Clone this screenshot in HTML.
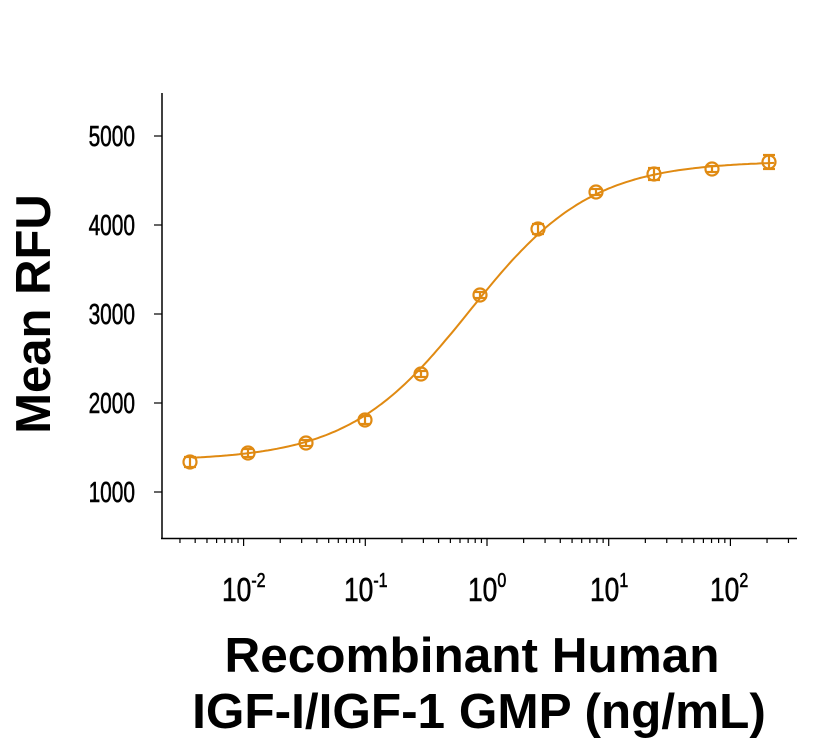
<!DOCTYPE html>
<html><head><meta charset="utf-8"><style>
body{margin:0;background:#fff;}
svg{display:block;}
.t{font-family:"Liberation Sans",sans-serif;}
</style></head><body>
<svg id="s" width="838" height="743" xmlns="http://www.w3.org/2000/svg">
<g stroke="#000" stroke-width="1.5" fill="none">
<line x1="162" y1="93" x2="162" y2="539"/>
<line x1="161" y1="538.5" x2="797" y2="538.5"/>
</g>
<g id="ticks" stroke="#000" stroke-width="1.2"></g>
<g class="t" font-size="29" fill="#000" stroke="#000" stroke-width="0.6" text-anchor="end">
<text x="135" y="146" transform="scale(0.72,1)" transform-origin="135 146">5000</text>
<text x="135" y="235" transform="scale(0.72,1)" transform-origin="135 235">4000</text>
<text x="135" y="324" transform="scale(0.72,1)" transform-origin="135 324">3000</text>
<text x="135" y="413" transform="scale(0.72,1)" transform-origin="135 413">2000</text>
<text x="135" y="502" transform="scale(0.72,1)" transform-origin="135 502">1000</text>
</g>
<g class="t" fill="#000" stroke="#000" stroke-width="0.6" font-size="33">
<text x="222" y="601" transform="scale(0.8,1)" transform-origin="222 601">10<tspan font-size="20" dy="-14">-2</tspan></text>
<text x="344" y="601" transform="scale(0.8,1)" transform-origin="344 601">10<tspan font-size="20" dy="-14">-1</tspan></text>
<text x="468" y="601" transform="scale(0.8,1)" transform-origin="468 601">10<tspan font-size="20" dy="-14">0</tspan></text>
<text x="590" y="601" transform="scale(0.8,1)" transform-origin="590 601">10<tspan font-size="20" dy="-14">1</tspan></text>
<text x="710" y="601" transform="scale(0.8,1)" transform-origin="710 601">10<tspan font-size="20" dy="-14">2</tspan></text>
</g>
<text class="t" x="472" y="672" font-size="49.5" font-weight="bold" text-anchor="middle">Recombinant Human</text>
<text class="t" x="479" y="728" font-size="49.5" font-weight="bold" text-anchor="middle">IGF-I/IGF-1 GMP (ng/mL)</text>
<text class="t" x="0" y="0" font-size="49" font-weight="bold" text-anchor="middle" transform="translate(50,314) rotate(-90)">Mean RFU</text>
<path id="curve" fill="none" stroke="#E08A12" stroke-width="2"/>
<g id="pts" fill="none" stroke="#E08A12" stroke-width="2.2"></g>
</svg>
<script>
function X(v){return 487+121.7*Math.log10(v);}
function Y(v){return 492-(v-1000)*0.089;}
var tk=document.getElementById('ticks'),h='';
for(var d=-3;d<=2;d++){for(var m=1;m<=9;m++){var x=X(m*Math.pow(10,d));if(x<162||x>797)continue;h+='<line x1="'+x+'" y1="538" x2="'+x+'" y2="'+(m==1?546:543)+'"/>';}}
[5000,4000,3000,2000,1000].forEach(function(v){h+='<line x1="154" y1="'+Y(v)+'" x2="162" y2="'+Y(v)+'"/>';});
tk.innerHTML=h;
function f(c){return 1350+(4720-1350)/(1+Math.pow(0.72/c,0.87));}
var p='';for(var i=0;i<=200;i++){var lx=-2.42+i*(2.36+2.42)/200;var c=Math.pow(10,lx);p+=(i?'L':'M')+X(c).toFixed(1)+','+Y(f(c)).toFixed(1);}
document.getElementById('curve').setAttribute('d',p);
var xs=[190,248,306,365,421,480,538,596,654,712,769],ys=[462,453,443,420,374,295,229,192,174,169,162],es=[5,4,3,4,3,3,5,3,6,3,7];
var g='';for(var i=0;i<xs.length;i++){g+='<circle cx="'+xs[i]+'" cy="'+ys[i]+'" r="6.5"/>';g+='<line x1="'+xs[i]+'" y1="'+(ys[i]-es[i])+'" x2="'+xs[i]+'" y2="'+(ys[i]+es[i])+'"/><line x1="'+(xs[i]-6)+'" y1="'+(ys[i]-es[i])+'" x2="'+(xs[i]+6)+'" y2="'+(ys[i]-es[i])+'"/><line x1="'+(xs[i]-6)+'" y1="'+(ys[i]+es[i])+'" x2="'+(xs[i]+6)+'" y2="'+(ys[i]+es[i])+'"/>';}
document.getElementById('pts').innerHTML=g;
</script>
</body></html>
